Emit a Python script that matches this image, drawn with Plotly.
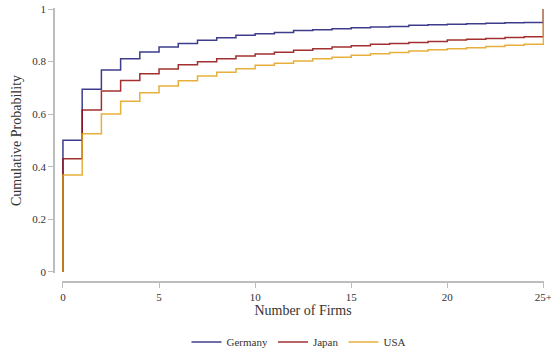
import plotly.graph_objects as go

firms = list(range(26))
tick_vals = [0, 5, 10, 15, 20, 25]
tick_text = ["0", "5", "10", "15", "20", "25+"]

germany = [0.501, 0.695, 0.768, 0.811, 0.837, 0.856, 0.869, 0.881, 0.891, 0.900,
           0.906, 0.911, 0.918, 0.921, 0.925, 0.929, 0.932, 0.934, 0.938, 0.940,
           0.942, 0.944, 0.946, 0.948, 0.949, 1.0]
japan = [0.431, 0.616, 0.688, 0.728, 0.754, 0.772, 0.788, 0.800, 0.811, 0.821,
         0.829, 0.836, 0.843, 0.849, 0.856, 0.860, 0.866, 0.869, 0.873, 0.877,
         0.882, 0.885, 0.888, 0.892, 0.895, 1.0]
usa = [0.369, 0.526, 0.601, 0.649, 0.682, 0.707, 0.727, 0.745, 0.760, 0.773,
       0.786, 0.794, 0.802, 0.811, 0.817, 0.824, 0.830, 0.835, 0.840, 0.845,
       0.849, 0.853, 0.858, 0.862, 0.866, 1.0]

series = [("Germany", germany, "#1c1c78"), ("Japan", japan, "#930d0d"), ("USA", usa, "#e3a21a")]

fig = go.Figure()
for name, vals, col in series:
    fig.add_trace(go.Scatter(
        x=[0] + firms, y=[0] + vals, mode="lines", name=name,
        line=dict(color=col, width=1.5, shape="hv"), opacity=0.85,
    ))

W, H = 551, 354
ml, mr, mt, mb = 54, 7, 8, 72
pw = W - ml - mr
ph = H - mt - mb
x0px = 63 - ml
y0px = 282 - 272

axis_col = "#bdbdbd"
font_col = "#333333"
fig.update_layout(
    width=W, height=H,
    margin=dict(l=ml, r=mr, t=mt, b=mb, autoexpand=False),
    paper_bgcolor="white", plot_bgcolor="white",
    font=dict(family="Liberation Serif", size=11, color=font_col),
    showlegend=True,
    legend=dict(orientation="h", x=0.5, xanchor="center", y=(282 - 342) / ph,
                yanchor="middle", font=dict(size=11), itemwidth=30),
    xaxis=dict(
        domain=[(x0px - 1) / pw, 1], range=[-0.05, 25.03], anchor="free", position=0,
        automargin=False, ticklabeloverflow="allow",
        showgrid=False, zeroline=False, showline=True, linecolor=axis_col, linewidth=1.5,
        ticks="outside", ticklen=5, tickcolor=axis_col, tickwidth=1,
        tickvals=tick_vals, ticktext=tick_text, tickfont=dict(size=11),
        title=dict(text="Number of Firms", font=dict(size=14), standoff=2),
    ),
    yaxis=dict(
        domain=[(y0px - 1) / ph, 1], range=[-0.004, 1.004], anchor="free", position=0,
        automargin=False, ticklabeloverflow="allow",
        showgrid=False, zeroline=False, showline=True, linecolor=axis_col, linewidth=1.5,
        ticks="outside", ticklen=5, tickcolor=axis_col, tickwidth=1,
        tickvals=[0, 0.2, 0.4, 0.6, 0.8, 1], ticktext=["0", "0.2", "0.4", "0.6", "0.8", "1"],
        tickfont=dict(size=11),
        title=dict(text="Cumulative Probability", font=dict(size=14), standoff=6),
    ),
)

fig.write_html("out.html", config={"displayModeBar": False},
               post_script="document.body.style.margin='0';")
